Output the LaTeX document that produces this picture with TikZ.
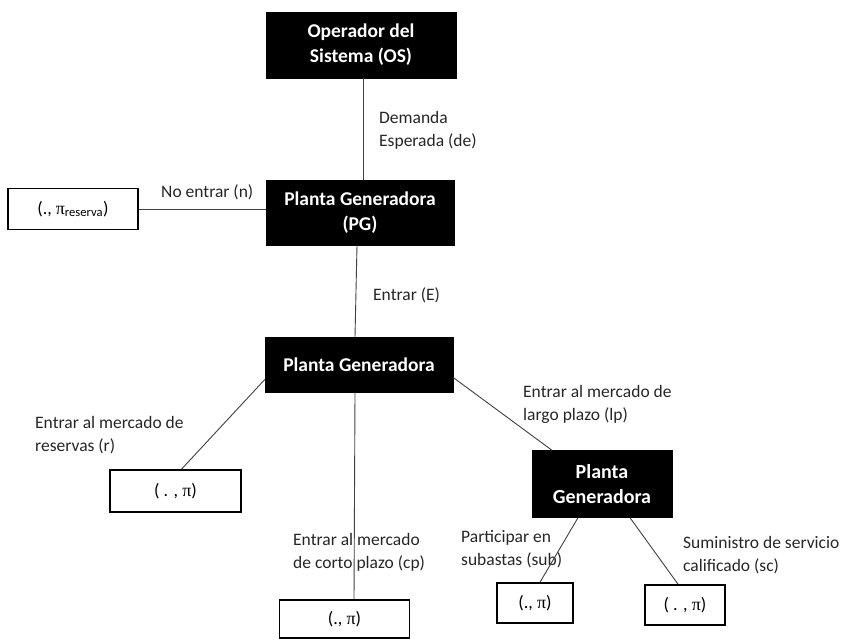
\documentclass[tikz,border=0pt]{standalone}
\usepackage{fontspec}
\setmainfont{Carlito}
\newfontfamily\pifam{Liberation Serif}
\newcommand{\mypi}{{\pifam π}}
\begin{document}
\begin{tikzpicture}[x=1pt,y=-1pt,
  blackbox/.style={fill=black,draw=black,text=white,align=center,inner sep=0pt,font=\fontsize{19.5}{25}\selectfont\bfseries},
  whitebox/.style={draw=black,line width=1.6pt,fill=white,font=\fontsize{18}{21}\selectfont,inner sep=0pt},
  lbl/.style={anchor=base west,align=left,inner sep=0pt,font=\fontsize{17.5}{23}\selectfont,text=black!85},
  conn/.style={draw=black!75,line width=0.9pt}]
\useasboundingbox (0,0) rectangle (842,640);
% boxes
\node[blackbox,minimum width=190pt,minimum height=66pt] (OS) at (361,45) {Operador del\\Sistema (OS)};
\node[blackbox,minimum width=188pt,minimum height=65pt] (PG) at (360,212.5) {Planta Generadora\\(PG)};
\node[whitebox,minimum width=130pt,minimum height=41pt] (res) at (73,209) {(., \mypi\textsubscript{reserva})};
\node[blackbox,minimum width=188pt,minimum height=55pt] (PG2) at (359,364.5) {Planta Generadora};
\node[whitebox,minimum width=131pt,minimum height=42pt] (r) at (175.5,491) {( . , \mypi)};
\node[whitebox,minimum width=130pt,minimum height=38pt] (cp) at (344.5,619) {(., \mypi)};
\node[blackbox,font=\fontsize{20}{25}\selectfont\bfseries,minimum width=140pt,minimum height=67pt] (PG3) at (602,484) {Planta\\Generadora};
\node[whitebox,minimum width=76pt,minimum height=40pt] (sub) at (535,603) {(., \mypi)};
\node[whitebox,minimum width=80pt,minimum height=40pt] (sc) at (685,605) {( . , \mypi)};
% labels
\node[lbl] (l1) at (379,146) {Demanda\\Esperada (de)};
\node[lbl] (l2) at (161,197) {No entrar (n)};
\node[lbl] (l3) at (373,300) {Entrar (E)};
\node[lbl] (l4) at (35,451) {Entrar al mercado de\\reservas (r)};
\node[lbl] (l5) at (523,420) {Entrar al mercado de\\largo plazo (lp)};
\node[lbl] (l6) at (293,568) {Entrar al mercado\\de corto plazo (cp)};
\node[lbl] (l7) at (461,565) {Participar en\\subastas (sub)};
\node[lbl] (l8) at (683,571) {Suministro de servicio\\calificado (sc)};
% connectors
\draw[conn] ([xshift=2pt]OS.south) -- ([xshift=3pt]PG.north);
\draw[conn] (res.east) -- (res.east -| PG.west);
\draw[conn] ([xshift=-3pt]PG.south) -- ([xshift=-4pt]PG2.north);
\draw[conn] ([yshift=-15pt]PG2.west) -- ([xshift=6pt]r.north);
\draw[conn] ([xshift=-4pt]PG2.south) -- ([xshift=9.5pt]cp.north);
\draw[conn] ([yshift=-13pt]PG2.east) -- ([xshift=-50pt]PG3.north);
\draw[conn] ([xshift=-24pt]PG3.south) -- ([xshift=5pt]sub.north);
\draw[conn] ([xshift=28pt]PG3.south) -- ([xshift=-7pt]sc.north);
\end{tikzpicture}
\end{document}
